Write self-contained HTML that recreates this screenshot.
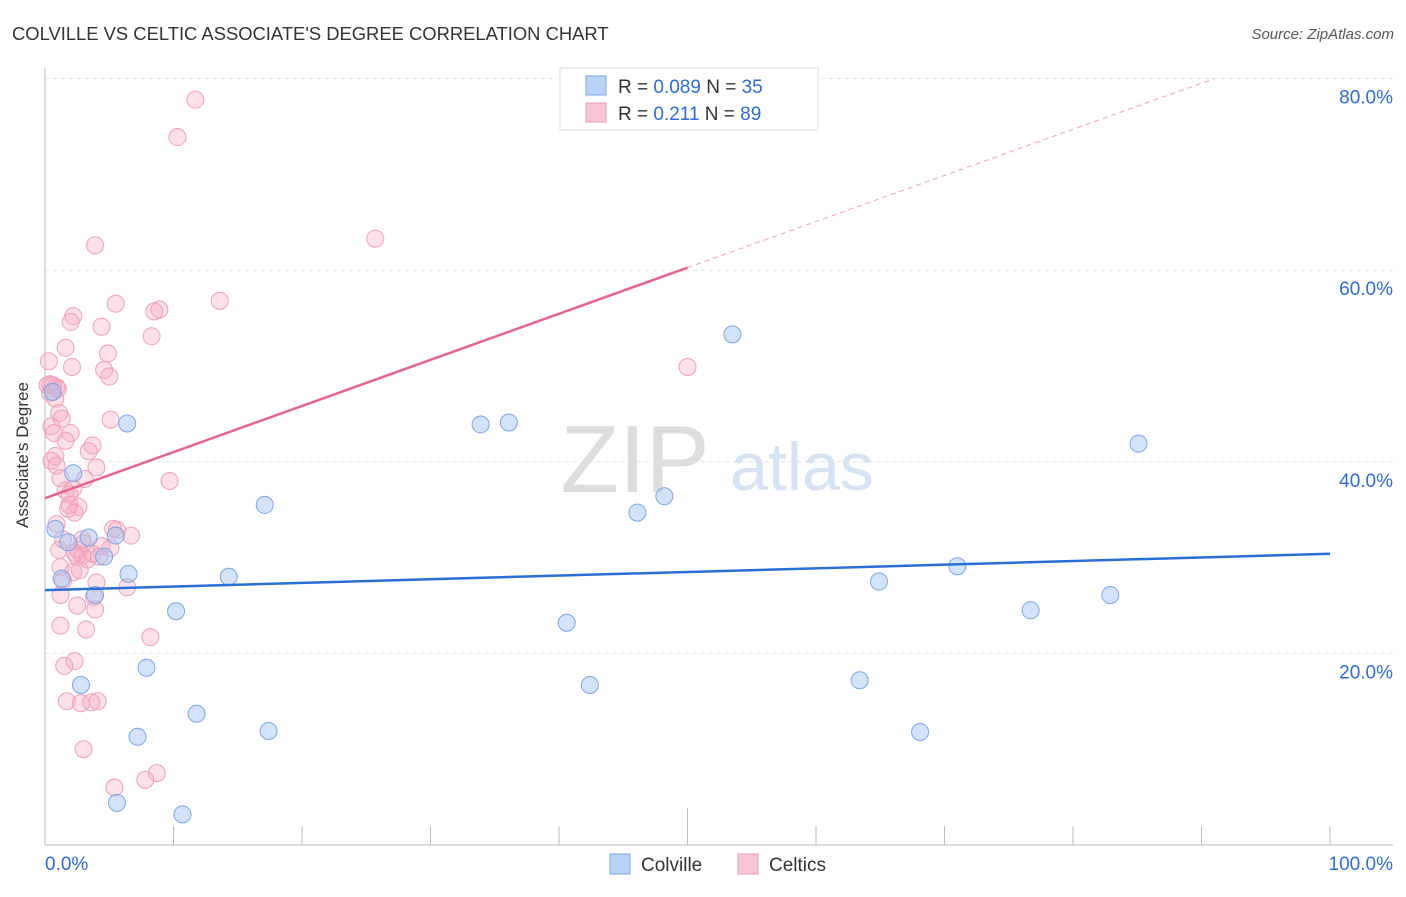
<!DOCTYPE html>
<html><head><meta charset="utf-8"><style>
body{margin:0;background:#fff;font-family:"Liberation Sans",sans-serif}
svg text{font-family:"Liberation Sans",sans-serif}
</style></head><body>
<svg id="c" width="1406" height="892" xmlns="http://www.w3.org/2000/svg">
<text x="12" y="40" font-size="18.4" fill="#333">COLVILLE VS CELTIC ASSOCIATE'S DEGREE CORRELATION CHART</text>
<text x="1394" y="39" font-size="15" fill="#555" text-anchor="end" font-style="italic">Source: ZipAtlas.com</text>
<text x="28" y="455" font-size="17" fill="#333" text-anchor="middle" transform="rotate(-90 28 455)">Associate's Degree</text>
<text x="635" y="492" font-size="96" fill="#ddd" font-family="Liberation Serif" text-anchor="middle">ZIP</text>
<text x="802" y="490" font-size="68" fill="#d5e3f5" text-anchor="middle">atlas</text>
<g id="grid"></g><g id="pts"></g><g id="lines"></g>
<g>
<rect x="560" y="68" width="258" height="62" fill="#fff" stroke="#ddd"/>
<rect x="586" y="76" width="20" height="19" fill="#b8d3f5" stroke="#7aa6e6"/>
<rect x="586" y="103" width="20" height="19" fill="#f9c6d5" stroke="#ee9ab4"/>
<text x="618" y="93" font-size="19" fill="#333">R = <tspan fill="#2f6bd8">0.089</tspan>   N = <tspan fill="#2f6bd8">35</tspan></text>
<text x="618" y="120" font-size="19" fill="#333">R =  <tspan fill="#2f6bd8">0.211</tspan>   N = <tspan fill="#2f6bd8">89</tspan></text>
</g>
<g>
<rect x="610" y="854" width="20" height="20" fill="#b8d3f5" stroke="#7aa6e6"/>
<text x="641" y="871" font-size="19" fill="#333">Colville</text>
<rect x="738" y="854" width="20" height="20" fill="#f9c6d5" stroke="#ee9ab4"/>
<text x="769" y="871" font-size="19" fill="#333">Celtics</text>
</g>
</svg>
<script>
const yTicks=[20,40,60,80];
const xTickLabels=["0.0%","100.0%"];
const colvilleX=[6.4,0.8,2.2,1.3,1.8,3.4,3.9,4.6,5.5,6.5,2.8,7.9,10.2,11.8,7.2,5.6,10.7,14.3,17.1,17.4,33.9,36.1,40.6,42.4,46.1,48.2,53.5,63.4,64.9,68.1,71.0,76.7,82.9,85.1,0.6];
const colvilleY=[44.0,33.0,38.8,27.8,31.6,32.1,26.1,30.1,32.3,28.3,16.7,18.5,24.4,13.7,11.3,4.4,3.2,28.0,35.5,11.9,43.9,44.1,23.2,16.7,34.7,36.4,53.3,17.2,27.5,11.8,29.1,24.5,26.1,41.9,47.3];
const celticsX=[11.7,10.3,3.9,25.7,13.6,5.5,8.9,8.5,2.2,2.0,4.4,8.3,1.6,4.9,0.3,2.1,4.6,5.0,50.0,0.2,0.9,0.4,1.0,0.8,1.1,1.3,5.1,0.5,0.7,2.0,1.6,3.7,3.4,0.8,0.5,0.9,4.0,9.7,3.1,2.2,1.6,1.9,2.6,1.8,2.3,0.9,5.6,6.7,3.0,4.4,1.1,2.3,2.9,2.5,3.3,5.1,1.2,2.2,2.7,1.4,4.0,6.4,1.2,2.5,3.9,1.2,3.2,8.2,2.3,1.5,1.7,2.8,3.6,4.1,3.0,5.4,8.7,7.8,0.4,0.6,1.2,1.9,2.9,3.7,2.6,5.3,1.4,4.2,3.8];
const celticsY=[77.8,73.9,62.6,63.3,56.8,56.5,55.9,55.7,55.2,54.6,54.1,53.1,51.9,51.3,50.5,49.9,49.6,48.9,49.9,48.0,47.8,47.2,47.6,46.6,45.1,44.5,44.4,43.7,43.0,43.0,42.2,41.7,41.1,40.6,40.1,39.6,39.4,38.0,38.2,37.2,37.0,36.6,35.3,35.1,34.7,33.5,32.9,32.3,31.5,31.2,30.8,30.5,30.2,30.1,29.8,31.0,29.0,28.5,28.7,27.6,27.4,26.9,26.1,25.0,24.6,22.9,22.5,21.7,19.2,18.7,15.0,14.8,14.9,15.0,10.0,6.0,7.5,6.8,48.1,48.0,38.3,35.5,31.9,30.4,30.8,33.0,31.9,30.1,25.9];
const colvilleLine=[26.6,30.4];
const celticsLine=[36.2,80.0];
const X0=45,X1=1330,Y0=845,PER=9.58;
const sx=v=>X0+(X1-X0)*v/100, sy=v=>Y0-v*PER;
const NS="http://www.w3.org/2000/svg";
function mk(t,a,p){const e=document.createElementNS(NS,t);for(const k in a)e.setAttribute(k,a[k]);p.appendChild(e);return e;}
const g=document.getElementById('grid');
mk('line',{x1:X0,y1:68,x2:X0,y2:Y0,stroke:'#bbb'},g);
mk('line',{x1:X0,y1:Y0,x2:1393,y2:Y0,stroke:'#bbb'},g);
for(let i=1;i<=10;i++){const t=mk('line',{x1:sx(i*10),y1:(i==5?808:826),x2:sx(i*10),y2:Y0,stroke:'#bbb'},g);

}
yTicks.forEach(v=>{const l=mk('line',{x1:X0,y1:sy(v),x2:1393,y2:sy(v),stroke:'#e2e2e2','stroke-dasharray':'4,4'},g);


const t=mk('text',{x:1393,y:sy(v)+25,'font-size':19,fill:'#2f6bd8','text-anchor':'end'},g);t.textContent=v.toFixed(1)+'%';

});
const xl0=mk('text',{x:45,y:870,'font-size':19,fill:'#2f6bd8'},g);xl0.textContent=xTickLabels[0];


const xl1=mk('text',{x:1393,y:870,'font-size':19,fill:'#2f6bd8','text-anchor':'end'},g);xl1.textContent=xTickLabels[1];


const p=document.getElementById('pts');
celticsX.forEach((x,i)=>{const c=mk('circle',{cx:sx(x),cy:sy(celticsY[i]),r:8.5,fill:'rgba(246,170,195,0.35)',stroke:'#f0a0b8','stroke-width':1},p);

});
colvilleX.forEach((x,i)=>{const c=mk('circle',{cx:sx(x),cy:sy(colvilleY[i]),r:8.5,fill:'rgba(160,195,240,0.45)',stroke:'#7aa6e6','stroke-width':1},p);

});
const L=document.getElementById('lines');
const bl=mk('line',{x1:sx(0),y1:sy(colvilleLine[0]),x2:sx(100),y2:sy(colvilleLine[1]),stroke:'#2a6fd6','stroke-width':2.5},L);


const slope=(celticsLine[1]-celticsLine[0])/91;
const pl=mk('line',{x1:sx(0),y1:sy(celticsLine[0]),x2:sx(50),y2:sy(celticsLine[0]+slope*50),stroke:'#e8648e','stroke-width':2.5},L);


const pd=mk('line',{x1:sx(50),y1:sy(celticsLine[0]+slope*50),x2:sx(91),y2:sy(celticsLine[1]),stroke:'#f0a0b8','stroke-width':1,'stroke-dasharray':'5,4'},L);


</script>
</body></html>
